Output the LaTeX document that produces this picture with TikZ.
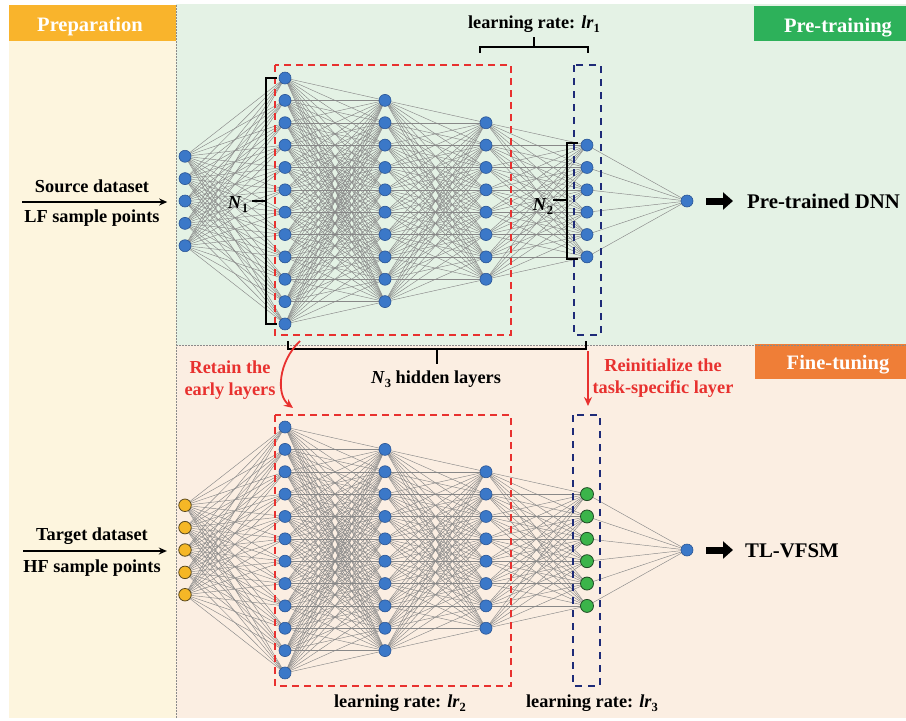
\documentclass[tikz,border=0pt]{standalone}
\usepackage{fontspec}
\setmainfont{Liberation Serif}
\usetikzlibrary{arrows.meta}
\definecolor{prepbg}{HTML}{FDF5DE}
\definecolor{prephead}{HTML}{F9B42C}
\definecolor{greenbg}{HTML}{E4F2E5}
\definecolor{peachbg}{HTML}{FBEEE2}
\definecolor{pthead}{HTML}{2DB15A}
\definecolor{fthead}{HTML}{EF7E37}
\definecolor{nblue}{HTML}{3B78C8}
\definecolor{nblueD}{HTML}{2A5595}
\definecolor{nyellow}{HTML}{F5B726}
\definecolor{nyellowD}{HTML}{5A4A20}
\definecolor{ngreen}{HTML}{3BB44A}
\definecolor{ngreenD}{HTML}{1F4A24}
\definecolor{edgegray}{HTML}{888888}
\definecolor{boxred}{HTML}{E8312F}
\definecolor{boxblue}{HTML}{1E2B78}
\definecolor{sepgray}{HTML}{8A8A8A}
\pgfdeclarelayer{back}
\pgfdeclarelayer{edges}
\pgfsetlayers{back,edges,main}
\newcommand\subnum[1]{\raisebox{-0.22em}{\fontsize{12.5}{13}\selectfont\bfseries\upshape #1}}
\begin{document}
\begin{tikzpicture}[x=1pt,y=-1pt,
 neuron/.style={circle,minimum size=12pt,inner sep=0pt,fill=nblue,draw=nblueD,line width=0.6pt},
 yneuron/.style={neuron,minimum size=12.5pt,fill=nyellow,draw=nyellowD,line width=0.8pt},
 gneuron/.style={neuron,minimum size=13pt,fill=ngreen,draw=ngreenD,line width=0.8pt},
 edge/.style={draw=edgegray,line width=0.45pt},
 redbox/.style={draw=boxred,line width=1.8pt,dash pattern=on 7pt off 5pt},
 bluebox/.style={draw=boxblue,line width=1.8pt,dash pattern=on 7pt off 6pt},
 bracket/.style={draw=black,line width=1.4pt,line join=miter},
 redarrow/.style={draw=boxred,line width=1.8pt,-{Stealth[length=9pt,width=8pt]}},
 fatarrow/.style={draw=black,line width=7pt,-{Triangle[length=10pt,width=17pt]}},
 inarrow/.style={draw=black,line width=1.3pt,-{Stealth[length=8pt,width=7pt]}},
 lab/.style={font=\fontsize{18.3}{21}\selectfont\bfseries,inner sep=0pt,anchor=base},
 redlab/.style={lab,text=boxred},
 head/.style={font=\fontsize{20.5}{24}\selectfont\bfseries,text=white,inner sep=0pt,anchor=base},
 big/.style={font=\fontsize{20.8}{24}\selectfont\bfseries,inner sep=0pt,anchor=base west}]
\useasboundingbox (0,0) rectangle (906,721);

% backgrounds
\begin{pgfonlayer}{back}
\fill[white] (0,0) rectangle (906,721);
\fill[prepbg] (9,41) rectangle (176,718);
\fill[prephead] (9,5) rectangle (176,41);
\fill[greenbg] (176,4) rectangle (906,345);
\fill[peachbg] (176,345) rectangle (906,718);
\fill[pthead] (754,6) rectangle (906,41);
\fill[fthead] (755,344) rectangle (906,379);
\draw[sepgray,line width=0.6pt,dash pattern=on 2pt off 1pt] (176,5) -- (176,718);
\draw[sepgray,line width=0.6pt,dash pattern=on 2pt off 1pt] (176,345) -- (906,345);
\end{pgfonlayer}

% headings
\node[head] (hprep) at (90,31) {Preparation};
\node[head] (hpt) at (838,32) {Pre-training};
\node[head] (hft) at (838,369) {Fine-tuning};

% top network
\foreach \L/\x/\n/\s in {0/185/5/neuron,1/285/12/neuron,2/385/10/neuron,3/486/8/neuron,4/587/6/neuron,5/687/1/neuron} {
  \foreach \i in {1,...,\n} {
    \pgfmathsetmacro\yy{201+(\i-(\n+1)/2)*22.36}
    \node[\s] (T\L-\i) at (\x,\yy) {};
  }
}
% bottom network
\foreach \L/\x/\n/\s in {0/185/5/yneuron,1/285/12/neuron,2/385/10/neuron,3/486/8/neuron,4/587/6/gneuron,5/687/1/neuron} {
  \foreach \i in {1,...,\n} {
    \pgfmathsetmacro\yy{550+(\i-(\n+1)/2)*22.36}
    \node[\s] (B\L-\i) at (\x,\yy) {};
  }
}
% edges
\begin{pgfonlayer}{edges}
\foreach \net in {T,B} {
  \foreach \L/\n/\M/\m in {0/5/1/12,1/12/2/10,2/10/3/8,3/8/4/6,4/6/5/1} {
    \foreach \i in {1,...,\n} {
      \foreach \j in {1,...,\m} {
        \draw[edge] (\net\L-\i.center) -- (\net\M-\j.center);
      }
    }
  }
}
\end{pgfonlayer}

% dashed boxes
\draw[redbox] (275,65) rectangle (511,335);
\draw[bluebox] (574,65) rectangle (601,335);
\draw[redbox] (275,415) rectangle (511,686);
\draw[bluebox] (573,415) rectangle (600,686);

% braces
\draw[bracket] (480,53) -- (480,47) -- (534,47) -- (534,37);
\draw[bracket] (534,47) -- (588,47) -- (588,53);
\draw[bracket] (277,78) -- (266,78) -- (266,324) -- (277,324);
\draw[bracket] (266,201) -- (252,201);
\draw[bracket] (578,143) -- (567,143) -- (567,259) -- (578,259);
\draw[bracket] (567,200) -- (553,200);
\draw[bracket] (288,341) -- (288,349) -- (586,349) -- (586,341);
\draw[bracket] (437,349) -- (437,364);

% labels
\node[lab] (lr1) at (534,28) {learning rate: \textit{lr}\subnum{1}};
\node[lab] (lr2) at (400,707) {learning rate: \textit{lr}\subnum{2}};
\node[lab] (lr3) at (592,707) {learning rate: \textit{lr}\subnum{3}};
\node[lab] (n1) at (238,208) {\textit{N}\subnum{1}};
\node[lab] (n2) at (543,210) {\textit{N}\subnum{2}};
\node[lab] (n3) at (436,383) {\textit{N}\subnum{3} hidden layers};

\node[lab] (src1) at (92,192) {Source dataset};
\node[lab] (src2) at (92,222) {LF sample points};
\node[lab] (tgt1) at (92,540) {Target dataset};
\node[lab] (tgt2) at (92,572) {HF sample points};
\coordinate (srcstart) at (22,202);
\coordinate (tgtstart) at (23,551);
\draw[inarrow,shorten >=11.5pt] (srcstart) -- (srcstart -| T0-1.west);
\draw[inarrow,shorten >=11.5pt] (tgtstart) -- (tgtstart -| B0-1.west);

\node[redlab] (ret1) at (230,373) {Retain the};
\node[redlab] (ret2) at (230,395) {early layers};
\node[redlab] (rei1) at (663,371) {Reinitialize the};
\node[redlab] (rei2) at (663,393) {task-specific layer};
\coordinate (ra1) at (300,341);
\coordinate (ra2) at (293,408);
\draw[redarrow] (ra1) .. controls (278,362) and (276,395) .. (ra2);
\coordinate (rb1) at (588,351);
\coordinate (rb2) at (588,406);
\draw[redarrow] (rb1) -- (rb2);

% outputs
\node[big] (ptdnn) at (747,208) {Pre-trained DNN};
\node[big] (tlv) at (745,557) {TL-VFSM};
\draw[fatarrow,shorten <=13pt,shorten >=14pt] (T5-1.east) -- (T5-1.east -| ptdnn.west);
\draw[fatarrow,shorten <=13pt,shorten >=12pt] (B5-1.east) -- (B5-1.east -| tlv.west);
\end{tikzpicture}
\end{document}
